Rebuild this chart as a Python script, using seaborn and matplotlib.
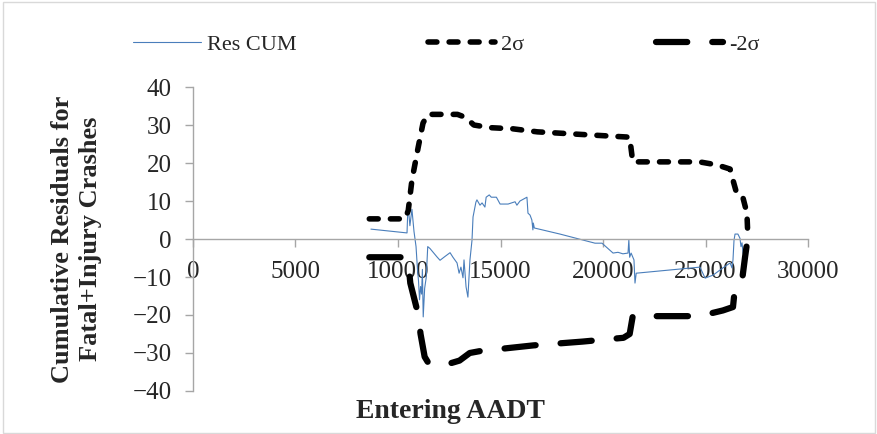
import numpy as np
import pandas as pd
import matplotlib.pyplot as plt
import seaborn as sns
from matplotlib.patches import Rectangle

# cumulative residuals
res_aadt = [8680, 10440, 10490, 10580, 10680, 10780, 10880, 10950, 11000, 11050,
            11100, 11150, 11190, 11230, 11300, 11380, 11450, 11560, 11900, 12050,
            12290, 12540, 12680, 12880, 12980, 13070, 13170, 13220, 13320, 13410,
            13510, 13610, 13660, 13800, 13850, 14000, 14100, 14240, 14300, 14450,
            14550, 14800, 14980, 15370, 15710, 15800, 15950, 16290, 16340, 16440,
            16530, 16580, 16600, 16650, 17900, 19610, 19950, 20490, 20730, 20970,
            21220, 21260, 21300, 21370, 21510, 21560, 21620, 24730, 24980, 25370,
            25850, 26200, 26290, 26340, 26390, 26440, 26580, 26680, 26730, 26780,
            26830, 26930]
res_cum = [2.6, 1.6, 9.2, 3.5, 7.8, 2.0, -2.0, -8.0, -11.0, -16.0,
           -12.5, -14.5, -8.0, -20.5, -13.0, -10.0, -2.0, -2.5, -4.7, -5.6,
           -4.6, -3.6, -4.8, -6.3, -9.0, -7.4, -10.2, -5.5, -12.6, -15.3,
           -5.5, -0.3, 5.8, 9.7, 10.3, 8.9, 9.5, 8.4, 11.0, 11.6,
           11.0, 11.0, 9.2, 9.2, 9.8, 8.9, 10.0, 11.0, 6.8, 6.3,
           5.0, 2.4, 4.2, 2.9, 1.3, -1.1, -1.1, -3.7, -3.5, -3.9,
           -3.7, -0.2, -4.8, -3.7, -5.5, -11.6, -9.0, -7.4, -10.3, -9.5,
           -7.6, -6.3, -7.6, -5.5, -0.3, 1.3, 1.3, 0.2, -2.0, -1.0,
           -3.7, -5.5]

# +2 sigma limit
upper_aadt = [8600, 10350, 10500, 10680, 10980, 11220, 11450, 12900, 13300, 13700,
              14500, 15600, 16800, 19000, 21300, 21450, 24700, 25560, 26200, 26340,
              26540, 26830, 27020, 27070]
upper_sigma = [5.3, 5.3, 7.5, 15.5, 24.0, 30.5, 32.8, 32.8, 32.0, 30.0,
               29.3, 29.0, 28.2, 27.5, 26.8, 20.3, 20.3, 19.5, 18.4, 15.5,
               11.6, 10.8, 6.8, 0.0]

# -2 sigma limit
lower_aadt = [8600, 10350, 10500, 10600, 10900, 11000, 11100, 11300, 11500, 12500,
              13000, 13500, 14000, 16600, 19000, 21000, 21300, 21450, 24700, 25850,
              26340, 26440, 26780, 26930, 27000]
lower_sigma = [-4.8, -4.8, -6.0, -11.6, -18.0, -20.5, -25.0, -31.0, -32.8, -32.8,
               -32.0, -30.0, -29.5, -28.0, -27.0, -26.0, -25.0, -20.3, -20.3, -18.8,
               -17.9, -12.6, -11.0, -4.7, -2.0]

x_ticks = [0, 5000, 10000, 15000, 20000, 25000, 30000]
y_ticks = [-40, -30, -20, -10, 0, 10, 20, 30, 40]

sns.set_style("white")
plt.rcParams['font.family'] = ['Liberation Serif', 'DejaVu Serif']

fig, ax = plt.subplots(figsize=(8.78, 4.34), dpi=100)
fig.subplots_adjust(left=0.2198, right=0.9203, bottom=0.0991, top=0.7995)

res_df = pd.DataFrame({'AADT': res_aadt, 'CURE': res_cum})
upper_df = pd.DataFrame({'AADT': upper_aadt, 'CURE': upper_sigma})
lower_df = pd.DataFrame({'AADT': lower_aadt, 'CURE': lower_sigma})

sns.lineplot(data=res_df, x='AADT', y='CURE', sort=False, estimator=None,
             color='#4a7ebb', linewidth=0.8, label='Res CUM', ax=ax)
sns.lineplot(data=upper_df, x='AADT', y='CURE', sort=False, estimator=None,
             color='black', linewidth=4, linestyle=(0, (1.6, 2.2)),
             dash_capstyle='round', solid_joinstyle='round', label='2σ', ax=ax)
sns.lineplot(data=lower_df, x='AADT', y='CURE', sort=False, estimator=None,
             color='black', linewidth=4.5, linestyle=(0, (5.0, 4.0)),
             dash_capstyle='round', solid_joinstyle='round', label='-2σ', ax=ax)

ax.set_xlim(0, 30000)
ax.set_ylim(-40, 40)
ax.set_xticks(x_ticks)
ax.set_yticks(y_ticks)

ax.spines['top'].set_visible(False)
ax.spines['right'].set_visible(False)
ax.spines['bottom'].set_position(('data', 0))
for side in ['left', 'bottom']:
    ax.spines[side].set_color('#a6a6a6')
    ax.spines[side].set_linewidth(1)

ax.tick_params(axis='both', direction='out', bottom=True, left=True,
               length=5.5, width=1, color='#a6a6a6', labelsize=18, pad=10)

ax.set_ylabel('Cumulative Residuals for\nFatal+Injury Crashes', fontsize=19,
              fontweight='bold', linespacing=1.3)
ax.yaxis.set_label_coords(-0.148, 0.5)
ax.set_xlabel('Entering AADT', fontsize=20, fontweight='bold')
ax.xaxis.set_label_coords(0.418, -0.025)

ax.legend(loc='center left', bbox_to_anchor=(133 / 878, 1 - 45 / 434),
          bbox_transform=fig.transFigure, ncol=3, frameon=False, fontsize=16,
          handlelength=3.05, handletextpad=0.27, columnspacing=5.9,
          borderpad=0, borderaxespad=0)

fig.patches.append(Rectangle((0.003, 0.003), 0.994, 0.993, transform=fig.transFigure,
                             fill=False, edgecolor='#d9d9d9', linewidth=1))

plt.savefig('out.png', dpi=100)
